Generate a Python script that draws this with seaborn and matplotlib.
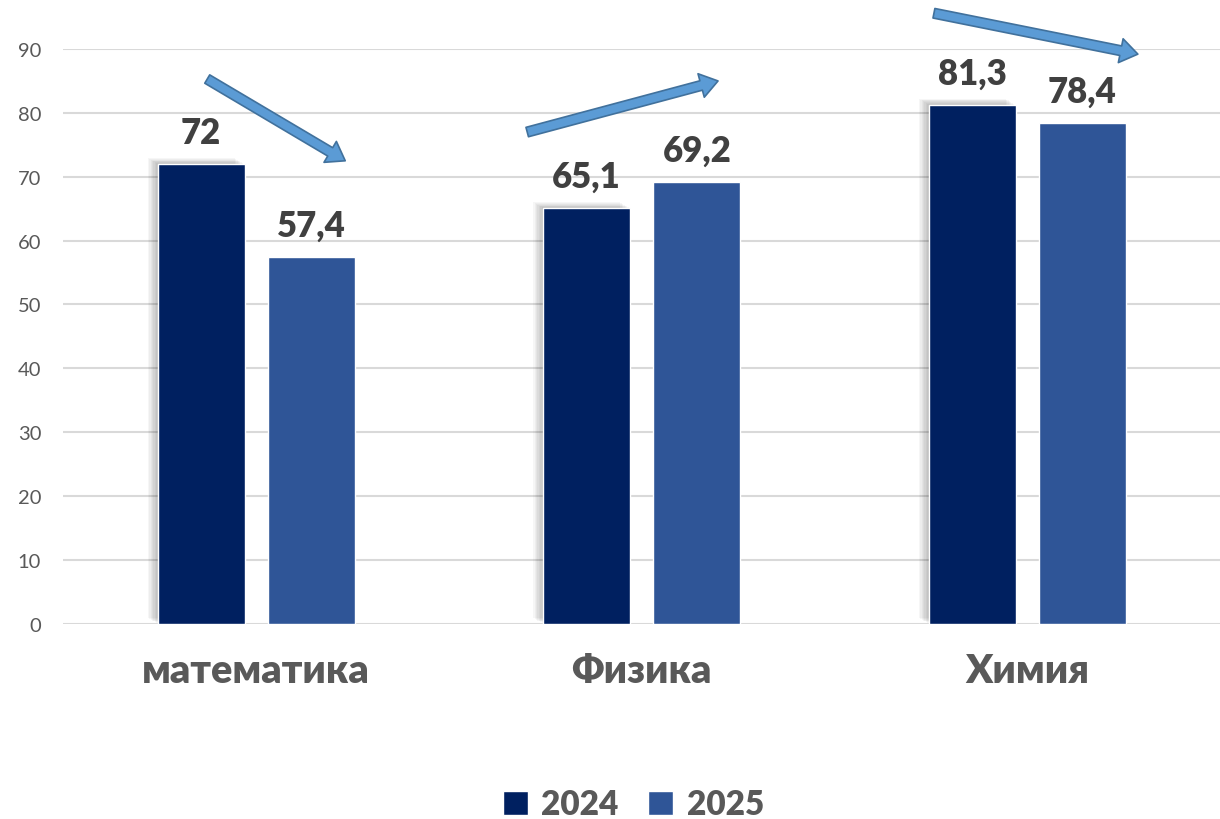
import pandas as pd
import matplotlib.pyplot as plt
import matplotlib.patheffects as pe
import seaborn as sns

subjects = ["математика", "Физика", "Химия"]
years = ["2024", "2025"]
scores_2024 = [72, 65.1, 81.3]
scores_2025 = [57.4, 69.2, 78.4]
yticks = [0, 10, 20, 30, 40, 50, 60, 70, 80, 90]

df = pd.DataFrame({
    "subject": subjects * 2,
    "year": [years[0]] * len(subjects) + [years[1]] * len(subjects),
    "score": scores_2024 + scores_2025,
})

# trend arrows drawn over the chart (tail, head) in data coords
arrows = [
    ((-0.127, 85.3), (0.231, 72.5)),
    ((0.703, 77.0), (1.198, 85.0)),
    ((1.758, 95.6), (2.287, 89.2)),
]

sns.set_theme(style="white")
plt.rcParams['font.family'] = ['Lato', 'Open Sans', 'DejaVu Sans']

fig = plt.figure(figsize=(12.2, 8.2), dpi=100)
ax = fig.add_axes([0.052, 0.238, 0.948, 0.701])

sns.barplot(
    data=df, x="subject", y="score", hue="year",
    palette={"2024": "#002060", "2025": "#2F5597"},
    width=0.572, gap=0.21, saturation=1, ax=ax,
)

ax.set_xlim(-0.5, 2.5)
ax.set_ylim(0, 90)
ax.set_yticks(yticks)
ax.set_xlabel("")
ax.set_ylabel("")
ax.yaxis.grid(True, color="#D9D9D9", lw=1.5)
ax.set_axisbelow(True)
sns.despine(ax=ax, left=True, bottom=True)

ax.tick_params(axis="y", length=0, labelsize=14.5, labelcolor="#595959", pad=16)
ax.tick_params(axis="x", length=0, labelsize=28.5, labelcolor="#595959", pad=20)
for t in ax.get_xticklabels():
    t.set_fontweight("heavy")

# soft shadow on the 2024 bars
shadow = [pe.SimplePatchShadow(offset=(-k, k * 0.6), shadow_rgbFace="#000000", alpha=0.035)
          for k in range(1, 8)]

for i, cont in enumerate(ax.containers):
    vals = scores_2024 if i == 0 else scores_2025
    ax.bar_label(cont, labels=[f"{v:g}".replace(".", ",") for v in vals],
                 padding=11, fontsize=25, fontweight="heavy", color="#404040")
    if i == 0:
        for bar in cont:
            bar.set_path_effects(shadow + [pe.Normal()])

for tail, head in arrows:
    ax.annotate(
        "", xy=head, xytext=tail, annotation_clip=False,
        arrowprops=dict(
            arrowstyle="simple,head_length=0.9,head_width=1.25,tail_width=0.5",
            mutation_scale=14, fc="#5B9BD5", ec="#41719C", lw=1.2,
            shrinkA=0, shrinkB=0,
        ),
    )

handles, labels = ax.get_legend_handles_labels()
ax.legend(
    handles, labels, loc="lower center", bbox_to_anchor=(0.519, -0.014),
    bbox_transform=fig.transFigure, ncol=2, frameon=False,
    prop={"weight": "heavy", "size": 24}, labelcolor="#595959",
    handlelength=0.75, handleheight=0.75, handletextpad=0.4,
    columnspacing=0.9, borderaxespad=0.1, borderpad=0.2,
)

plt.savefig("out.png", dpi=100)
